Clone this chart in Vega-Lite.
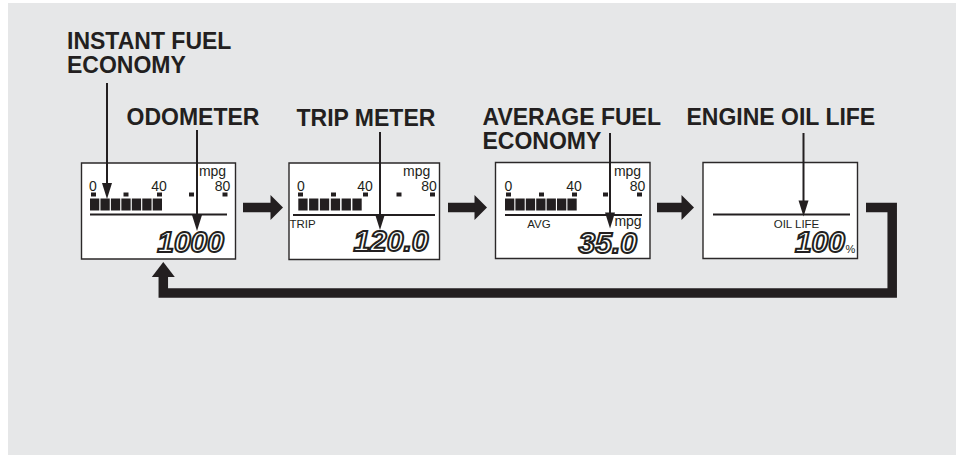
{
  "$schema": "https://vega.github.io/schema/vega-lite/v6.json",
  "width": 956,
  "height": 455,
  "autosize": {"type": "none"},
  "padding": 0,
  "background": "white",
  "config": {"view": {"stroke": null}},
  "datasets": {
    "panel": [{"x": 8, "x2": 956, "y": 3, "y2": 455}],
    "boxes": [
      {"x": 81.5, "x2": 235.5, "y": 163, "y2": 259},
      {"x": 289, "x2": 439.5, "y": 163, "y2": 259.5},
      {"x": 495.5, "x2": 650, "y": 162.5, "y2": 258.5},
      {"x": 703, "x2": 857.5, "y": 162.5, "y2": 258.5}
    ],
    "bars": [
      {"x": 90, "x2": 99.3, "y": 198.5, "y2": 210.5},
      {"x": 100.45, "x2": 109.75, "y": 198.5, "y2": 210.5},
      {"x": 110.9, "x2": 120.2, "y": 198.5, "y2": 210.5},
      {"x": 121.35, "x2": 130.65, "y": 198.5, "y2": 210.5},
      {"x": 131.8, "x2": 141.1, "y": 198.5, "y2": 210.5},
      {"x": 142.25, "x2": 151.55, "y": 198.5, "y2": 210.5},
      {"x": 152.7, "x2": 162, "y": 198.5, "y2": 210.5},
      {"x": 298.3, "x2": 307.6, "y": 198.5, "y2": 210.5},
      {"x": 309.1, "x2": 318.4, "y": 198.5, "y2": 210.5},
      {"x": 319.9, "x2": 329.2, "y": 198.5, "y2": 210.5},
      {"x": 330.8, "x2": 340.1, "y": 198.5, "y2": 210.5},
      {"x": 341.6, "x2": 350.9, "y": 198.5, "y2": 210.5},
      {"x": 352.4, "x2": 361.7, "y": 198.5, "y2": 210.5},
      {"x": 505, "x2": 514.3, "y": 198.5, "y2": 210.5},
      {"x": 515.4, "x2": 524.7, "y": 198.5, "y2": 210.5},
      {"x": 525.8, "x2": 535.1, "y": 198.5, "y2": 210.5},
      {"x": 536.2, "x2": 545.5, "y": 198.5, "y2": 210.5},
      {"x": 546.6, "x2": 555.9, "y": 198.5, "y2": 210.5},
      {"x": 557, "x2": 566.3, "y": 198.5, "y2": 210.5},
      {"x": 567.4, "x2": 576.7, "y": 198.5, "y2": 210.5}
    ],
    "ticks": [
      {"x": 91, "x2": 96, "y": 192.5, "y2": 196.5},
      {"x": 123.5, "x2": 128.5, "y": 192.5, "y2": 196.5},
      {"x": 157, "x2": 162, "y": 192.5, "y2": 196.5},
      {"x": 189, "x2": 194, "y": 192.5, "y2": 196.5},
      {"x": 222.5, "x2": 227.5, "y": 192.5, "y2": 196.5},
      {"x": 298, "x2": 303, "y": 192.5, "y2": 196.5},
      {"x": 331, "x2": 336, "y": 192.5, "y2": 196.5},
      {"x": 363, "x2": 368, "y": 192.5, "y2": 196.5},
      {"x": 396.5, "x2": 401.5, "y": 192.5, "y2": 196.5},
      {"x": 430, "x2": 435, "y": 192.5, "y2": 196.5},
      {"x": 506, "x2": 511, "y": 192.5, "y2": 196.5},
      {"x": 539, "x2": 544, "y": 192.5, "y2": 196.5},
      {"x": 572, "x2": 577, "y": 192.5, "y2": 196.5},
      {"x": 603, "x2": 608, "y": 192.5, "y2": 196.5},
      {"x": 637, "x2": 642, "y": 192.5, "y2": 196.5}
    ],
    "thin": [
      {"x": 90, "x2": 227, "y": 214.5, "y2": 214.5},
      {"x": 293, "x2": 435, "y": 215, "y2": 215},
      {"x": 505, "x2": 642, "y": 215, "y2": 215},
      {"x": 713, "x2": 850, "y": 214.5, "y2": 214.5},
      {"x": 107, "x2": 107, "y": 83, "y2": 185},
      {"x": 197, "x2": 197, "y": 130, "y2": 217},
      {"x": 380, "x2": 380, "y": 132, "y2": 216},
      {"x": 610, "x2": 610, "y": 133, "y2": 217},
      {"x": 803.5, "x2": 803.5, "y": 133, "y2": 203}
    ],
    "shafts": [
      {"x": 243, "x2": 272, "y": 207.5, "y2": 207.5},
      {"x": 448, "x2": 476, "y": 207.5, "y2": 207.5},
      {"x": 657, "x2": 683, "y": 207.5, "y2": 207.5}
    ],
    "loop": [
      {"o": 1, "x": 866, "y": 207.5},
      {"o": 2, "x": 892.2, "y": 207.5},
      {"o": 3, "x": 892.2, "y": 293},
      {"o": 4, "x": 163.3, "y": 293},
      {"o": 5, "x": 163.3, "y": 275}
    ],
    "headsRight": [
      {"x": 276.75, "y": 207.5},
      {"x": 480.75, "y": 207.5},
      {"x": 687.75, "y": 207.5}
    ],
    "headsDown": [
      {"x": 107, "y": 191},
      {"x": 197, "y": 223},
      {"x": 380, "y": 222},
      {"x": 610, "y": 220.5},
      {"x": 803.5, "y": 208.5}
    ],
    "headsUp": [{"x": 163.3, "y": 269.5}],
    "texts": [
      {"role": "label", "t": "INSTANT FUEL", "x": 67, "y": 48.5},
      {"role": "label", "t": "ECONOMY", "x": 67, "y": 72.8},
      {"role": "label", "t": "ODOMETER", "x": 126.5, "y": 124.5},
      {"role": "label", "t": "TRIP METER", "x": 296.5, "y": 125.5},
      {"role": "label", "t": "AVERAGE FUEL", "x": 482.5, "y": 125},
      {"role": "label", "t": "ECONOMY", "x": 482.5, "y": 148.5},
      {"role": "label", "t": "ENGINE OIL LIFE", "x": 686.5, "y": 125},
      {"role": "scale", "t": "0", "x": 93, "y": 190.5},
      {"role": "scale", "t": "40", "x": 159, "y": 190.5},
      {"role": "scale", "t": "80", "x": 222.5, "y": 190.5},
      {"role": "scale", "t": "0", "x": 301, "y": 190.5},
      {"role": "scale", "t": "40", "x": 365, "y": 190.5},
      {"role": "scale", "t": "80", "x": 429, "y": 190.5},
      {"role": "scale", "t": "0", "x": 508.5, "y": 190.5},
      {"role": "scale", "t": "40", "x": 574, "y": 190.5},
      {"role": "scale", "t": "80", "x": 637.5, "y": 190.5},
      {"role": "scale", "t": "mpg", "x": 212.5, "y": 175.5},
      {"role": "scale", "t": "mpg", "x": 416.7, "y": 175.5},
      {"role": "scale", "t": "mpg", "x": 627.5, "y": 175.5},
      {"role": "scale", "t": "mpg", "x": 628, "y": 226},
      {"role": "small", "t": "TRIP", "x": 302.5, "y": 227.5},
      {"role": "small", "t": "AVG", "x": 539, "y": 228},
      {"role": "small", "t": "OIL LIFE", "x": 796.5, "y": 228},
      {"role": "pct", "t": "%", "x": 845.5, "y": 253},
      {"role": "lcd", "t": "1000", "x": 224, "y": 252},
      {"role": "lcd", "t": "120.0", "x": 428.5, "y": 250.5},
      {"role": "lcd", "t": "35.0", "x": 637, "y": 253},
      {"role": "lcd", "t": "100", "x": 845, "y": 252}
    ]
  },
  "encoding": {
    "x": {"field": "x", "type": "quantitative", "scale": {"domain": [0, 956], "nice": false, "zero": false}, "axis": null},
    "y": {"field": "y", "type": "quantitative", "scale": {"domain": [0, 455], "reverse": true, "nice": false, "zero": false}, "axis": null}
  },
  "layer": [
    {
      "data": {"name": "panel"},
      "mark": {"type": "rect", "color": "#e6e7e8"},
      "encoding": {"x2": {"field": "x2"}, "y2": {"field": "y2"}}
    },
    {
      "data": {"name": "boxes"},
      "mark": {"type": "rect", "fill": "#ffffff", "stroke": "#2b2829", "strokeWidth": 1.4},
      "encoding": {"x2": {"field": "x2"}, "y2": {"field": "y2"}}
    },
    {
      "data": {"name": "bars"},
      "mark": {"type": "rect", "color": "#231f20"},
      "encoding": {"x2": {"field": "x2"}, "y2": {"field": "y2"}}
    },
    {
      "data": {"name": "ticks"},
      "mark": {"type": "rect", "color": "#231f20"},
      "encoding": {"x2": {"field": "x2"}, "y2": {"field": "y2"}}
    },
    {
      "data": {"name": "thin"},
      "mark": {"type": "rule", "color": "#231f20", "strokeWidth": 2},
      "encoding": {"x2": {"field": "x2"}, "y2": {"field": "y2"}}
    },
    {
      "data": {"name": "shafts"},
      "mark": {"type": "rule", "color": "#231f20", "strokeWidth": 9.5, "strokeCap": "butt"},
      "encoding": {"x2": {"field": "x2"}, "y2": {"field": "y2"}}
    },
    {
      "data": {"name": "loop"},
      "mark": {"type": "line", "color": "#231f20", "strokeWidth": 9.5, "strokeCap": "butt", "strokeJoin": "miter"},
      "encoding": {"order": {"field": "o", "type": "quantitative"}}
    },
    {
      "data": {"name": "headsRight"},
      "mark": {"type": "point", "filled": true, "color": "#231f20", "opacity": 1, "strokeWidth": 0, "shape": "M-0.5,-1L0.5,0L-0.5,1Z", "size": 625}
    },
    {
      "data": {"name": "headsDown"},
      "mark": {"type": "point", "filled": true, "color": "#231f20", "opacity": 1, "strokeWidth": 0, "shape": "M-0.625,-1L0.625,-1L0,1Z", "size": 256}
    },
    {
      "data": {"name": "headsUp"},
      "mark": {"type": "point", "filled": true, "color": "#231f20", "opacity": 1, "strokeWidth": 0, "shape": "M-1,0.652L0,-0.652L1,0.652Z", "size": 529}
    },
    {
      "data": {"name": "texts"},
      "transform": [{"filter": "datum.role === 'label'"}],
      "mark": {"type": "text", "align": "left", "baseline": "alphabetic", "font": "Liberation Sans, Arial, sans-serif", "fontSize": 23, "fontWeight": "bold", "color": "#231f20"},
      "encoding": {"text": {"field": "t"}}
    },
    {
      "data": {"name": "texts"},
      "transform": [{"filter": "datum.role === 'scale'"}],
      "mark": {"type": "text", "align": "center", "baseline": "alphabetic", "font": "Liberation Sans, Arial, sans-serif", "fontSize": 14, "color": "#231f20"},
      "encoding": {"text": {"field": "t"}}
    },
    {
      "data": {"name": "texts"},
      "transform": [{"filter": "datum.role === 'small'"}],
      "mark": {"type": "text", "align": "center", "baseline": "alphabetic", "font": "Liberation Sans Narrow, Liberation Sans, Arial, sans-serif", "fontSize": 11.5, "color": "#231f20"},
      "encoding": {"text": {"field": "t"}}
    },
    {
      "data": {"name": "texts"},
      "transform": [{"filter": "datum.role === 'pct'"}],
      "mark": {"type": "text", "align": "left", "baseline": "alphabetic", "font": "Liberation Sans, Arial, sans-serif", "fontSize": 11, "color": "#231f20"},
      "encoding": {"text": {"field": "t"}}
    },
    {
      "data": {"name": "texts"},
      "transform": [{"filter": "datum.role === 'lcd'"}],
      "mark": {"type": "text", "align": "right", "baseline": "alphabetic", "font": "Liberation Sans, Arial, sans-serif", "fontSize": 30, "fontStyle": "italic", "fontWeight": "bold", "fill": "#ffffff", "stroke": "#231f20", "strokeWidth": 2},
      "encoding": {"text": {"field": "t"}}
    }
  ]
}
